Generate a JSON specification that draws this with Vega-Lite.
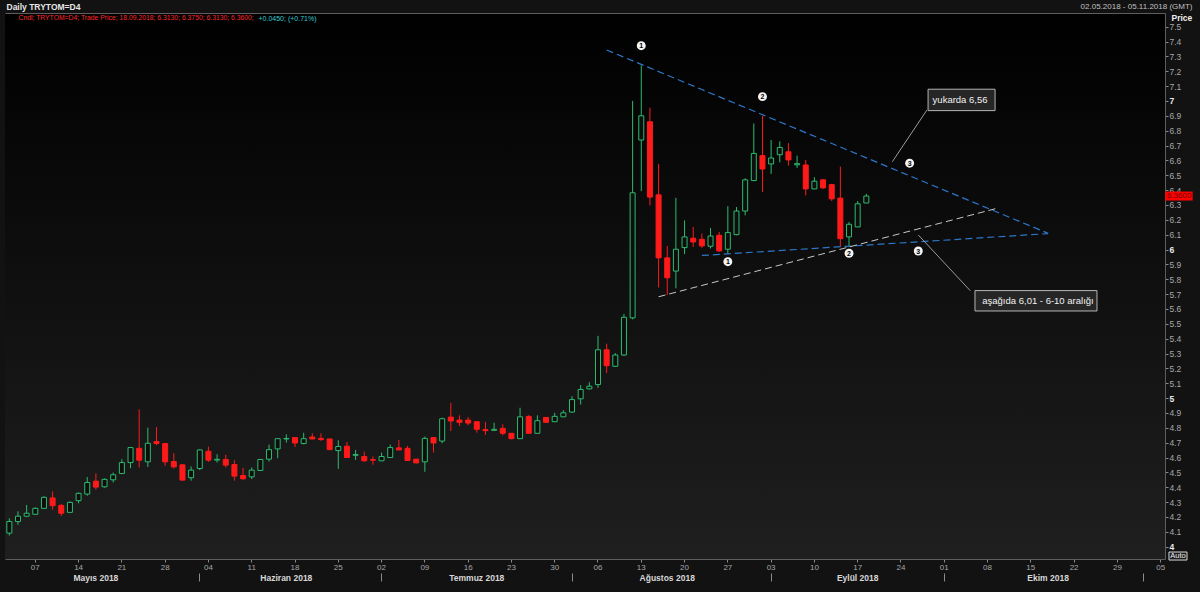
{
"$schema": "https://vega.github.io/schema/vega-lite/v6.json",
"width": 1160, "height": 546,
"autosize": {"type": "none"},
"padding": {"left": 5, "top": 13, "right": 35, "bottom": 33},
"background": "#121212",
"config": {
  "font": "Liberation Sans",
  "view": {"stroke": null, "fill": {"gradient": "linear", "x1": 0, "y1": 0, "x2": 0, "y2": 1, "stops": [{"offset": 0, "color": "#000000"}, {"offset": 1, "color": "#1f1f1f"}]}},
  "axis": {"grid": false, "labelFont": "Liberation Sans", "titleFont": "Liberation Sans", "labelOverlap": false, "labelFlush": false}
},
"datasets": {
  "ohlc": [
    {"d":"2018-05-02","o":4.091,"h":4.191,"l":4.075,"c":4.169},
    {"d":"2018-05-03","o":4.169,"h":4.238,"l":4.147,"c":4.205},
    {"d":"2018-05-04","o":4.205,"h":4.281,"l":4.203,"c":4.225},
    {"d":"2018-05-07","o":4.218,"h":4.265,"l":4.214,"c":4.258},
    {"d":"2018-05-08","o":4.258,"h":4.339,"l":4.254,"c":4.332},
    {"d":"2018-05-09","o":4.328,"h":4.372,"l":4.249,"c":4.276},
    {"d":"2018-05-10","o":4.278,"h":4.287,"l":4.207,"c":4.225},
    {"d":"2018-05-11","o":4.231,"h":4.305,"l":4.227,"c":4.298},
    {"d":"2018-05-14","o":4.310,"h":4.365,"l":4.292,"c":4.359},
    {"d":"2018-05-15","o":4.354,"h":4.468,"l":4.343,"c":4.432},
    {"d":"2018-05-16","o":4.441,"h":4.493,"l":4.383,"c":4.401},
    {"d":"2018-05-17","o":4.403,"h":4.459,"l":4.397,"c":4.453},
    {"d":"2018-05-18","o":4.450,"h":4.499,"l":4.432,"c":4.484},
    {"d":"2018-05-21","o":4.493,"h":4.589,"l":4.488,"c":4.566},
    {"d":"2018-05-22","o":4.566,"h":4.671,"l":4.528,"c":4.667},
    {"d":"2018-05-23","o":4.662,"h":4.924,"l":4.533,"c":4.582},
    {"d":"2018-05-24","o":4.571,"h":4.801,"l":4.537,"c":4.696},
    {"d":"2018-05-25","o":4.707,"h":4.805,"l":4.683,"c":4.694},
    {"d":"2018-05-28","o":4.694,"h":4.697,"l":4.544,"c":4.571},
    {"d":"2018-05-29","o":4.573,"h":4.629,"l":4.526,"c":4.537},
    {"d":"2018-05-30","o":4.551,"h":4.555,"l":4.444,"c":4.448},
    {"d":"2018-05-31","o":4.464,"h":4.540,"l":4.444,"c":4.515},
    {"d":"2018-06-01","o":4.526,"h":4.656,"l":4.515,"c":4.651},
    {"d":"2018-06-04","o":4.642,"h":4.674,"l":4.571,"c":4.582},
    {"d":"2018-06-05","o":4.583,"h":4.622,"l":4.566,"c":4.588},
    {"d":"2018-06-06","o":4.587,"h":4.618,"l":4.533,"c":4.549},
    {"d":"2018-06-07","o":4.553,"h":4.582,"l":4.444,"c":4.475},
    {"d":"2018-06-08","o":4.479,"h":4.531,"l":4.450,"c":4.457},
    {"d":"2018-06-11","o":4.470,"h":4.533,"l":4.455,"c":4.515},
    {"d":"2018-06-12","o":4.513,"h":4.587,"l":4.511,"c":4.587},
    {"d":"2018-06-13","o":4.589,"h":4.687,"l":4.573,"c":4.653},
    {"d":"2018-06-14","o":4.658,"h":4.727,"l":4.595,"c":4.727},
    {"d":"2018-06-15","o":4.725,"h":4.756,"l":4.700,"c":4.728},
    {"d":"2018-06-18","o":4.734,"h":4.734,"l":4.671,"c":4.698},
    {"d":"2018-06-19","o":4.694,"h":4.767,"l":4.689,"c":4.727},
    {"d":"2018-06-20","o":4.738,"h":4.763,"l":4.723,"c":4.725},
    {"d":"2018-06-21","o":4.729,"h":4.763,"l":4.712,"c":4.721},
    {"d":"2018-06-22","o":4.725,"h":4.725,"l":4.651,"c":4.653},
    {"d":"2018-06-25","o":4.647,"h":4.716,"l":4.524,"c":4.674},
    {"d":"2018-06-26","o":4.676,"h":4.705,"l":4.600,"c":4.600},
    {"d":"2018-06-27","o":4.615,"h":4.651,"l":4.584,"c":4.620},
    {"d":"2018-06-28","o":4.607,"h":4.640,"l":4.571,"c":4.578},
    {"d":"2018-06-29","o":4.586,"h":4.607,"l":4.551,"c":4.582},
    {"d":"2018-07-02","o":4.578,"h":4.633,"l":4.578,"c":4.607},
    {"d":"2018-07-03","o":4.600,"h":4.687,"l":4.600,"c":4.667},
    {"d":"2018-07-04","o":4.665,"h":4.718,"l":4.651,"c":4.651},
    {"d":"2018-07-05","o":4.662,"h":4.678,"l":4.580,"c":4.580},
    {"d":"2018-07-06","o":4.589,"h":4.589,"l":4.560,"c":4.564},
    {"d":"2018-07-09","o":4.571,"h":4.741,"l":4.504,"c":4.729},
    {"d":"2018-07-10","o":4.734,"h":4.738,"l":4.634,"c":4.698},
    {"d":"2018-07-11","o":4.711,"h":4.868,"l":4.696,"c":4.861},
    {"d":"2018-07-12","o":4.872,"h":4.968,"l":4.778,"c":4.846},
    {"d":"2018-07-13","o":4.852,"h":4.884,"l":4.812,"c":4.837},
    {"d":"2018-07-16","o":4.852,"h":4.872,"l":4.817,"c":4.832},
    {"d":"2018-07-17","o":4.841,"h":4.841,"l":4.767,"c":4.790},
    {"d":"2018-07-18","o":4.788,"h":4.839,"l":4.752,"c":4.781},
    {"d":"2018-07-19","o":4.783,"h":4.834,"l":4.779,"c":4.790},
    {"d":"2018-07-20","o":4.796,"h":4.823,"l":4.749,"c":4.763},
    {"d":"2018-07-23","o":4.763,"h":4.763,"l":4.723,"c":4.727},
    {"d":"2018-07-24","o":4.727,"h":4.935,"l":4.727,"c":4.874},
    {"d":"2018-07-25","o":4.877,"h":4.884,"l":4.763,"c":4.763},
    {"d":"2018-07-26","o":4.763,"h":4.884,"l":4.763,"c":4.848},
    {"d":"2018-07-27","o":4.870,"h":4.870,"l":4.834,"c":4.837},
    {"d":"2018-07-30","o":4.841,"h":4.901,"l":4.841,"c":4.877},
    {"d":"2018-07-31","o":4.874,"h":4.919,"l":4.874,"c":4.901},
    {"d":"2018-08-01","o":4.906,"h":5.013,"l":4.901,"c":4.990},
    {"d":"2018-08-02","o":4.995,"h":5.087,"l":4.957,"c":5.058},
    {"d":"2018-08-03","o":5.062,"h":5.107,"l":5.058,"c":5.080},
    {"d":"2018-08-06","o":5.091,"h":5.419,"l":5.069,"c":5.325},
    {"d":"2018-08-07","o":5.325,"h":5.366,"l":5.169,"c":5.218},
    {"d":"2018-08-08","o":5.214,"h":5.303,"l":5.209,"c":5.290},
    {"d":"2018-08-09","o":5.290,"h":5.567,"l":5.285,"c":5.544},
    {"d":"2018-08-10","o":5.540,"h":7.000,"l":5.530,"c":6.382},
    {"d":"2018-08-13","o":6.737,"h":7.239,"l":6.393,"c":6.900},
    {"d":"2018-08-14","o":6.860,"h":6.955,"l":6.297,"c":6.353},
    {"d":"2018-08-15","o":6.368,"h":6.576,"l":5.745,"c":5.944},
    {"d":"2018-08-16","o":5.944,"h":6.024,"l":5.694,"c":5.810},
    {"d":"2018-08-17","o":5.855,"h":6.348,"l":5.739,"c":6.002},
    {"d":"2018-08-20","o":6.013,"h":6.196,"l":5.969,"c":6.085},
    {"d":"2018-08-21","o":6.076,"h":6.152,"l":6.018,"c":6.051},
    {"d":"2018-08-22","o":6.069,"h":6.107,"l":6.011,"c":6.024},
    {"d":"2018-08-23","o":6.022,"h":6.145,"l":6.007,"c":6.091},
    {"d":"2018-08-24","o":6.096,"h":6.118,"l":5.984,"c":5.991},
    {"d":"2018-08-27","o":6.002,"h":6.292,"l":5.973,"c":6.114},
    {"d":"2018-08-28","o":6.100,"h":6.286,"l":6.096,"c":6.259},
    {"d":"2018-08-29","o":6.259,"h":6.480,"l":6.230,"c":6.469},
    {"d":"2018-08-30","o":6.464,"h":6.848,"l":6.464,"c":6.647},
    {"d":"2018-08-31","o":6.632,"h":6.900,"l":6.386,"c":6.542},
    {"d":"2018-09-03","o":6.576,"h":6.737,"l":6.509,"c":6.616},
    {"d":"2018-09-04","o":6.638,"h":6.728,"l":6.587,"c":6.687},
    {"d":"2018-09-05","o":6.658,"h":6.716,"l":6.565,"c":6.603},
    {"d":"2018-09-06","o":6.570,"h":6.632,"l":6.549,"c":6.578},
    {"d":"2018-09-07","o":6.569,"h":6.603,"l":6.364,"c":6.408},
    {"d":"2018-09-10","o":6.408,"h":6.487,"l":6.408,"c":6.460},
    {"d":"2018-09-11","o":6.469,"h":6.475,"l":6.408,"c":6.415},
    {"d":"2018-09-12","o":6.437,"h":6.442,"l":6.326,"c":6.341},
    {"d":"2018-09-13","o":6.346,"h":6.558,"l":6.018,"c":6.073},
    {"d":"2018-09-14","o":6.085,"h":6.185,"l":6.018,"c":6.170},
    {"d":"2018-09-17","o":6.152,"h":6.326,"l":6.152,"c":6.308},
    {"d":"2018-09-18","o":6.313,"h":6.375,"l":6.313,"c":6.360}
  ],
  "blue": [
    {"g":"top","d":"2018-08-07","p":7.343},{"g":"top","d":"2018-10-17","p":6.109},
    {"g":"low","d":"2018-08-22","p":5.960},{"g":"low","d":"2018-10-17","p":6.107}
  ],
  "white": [{"d":"2018-08-15","p":5.682},{"d":"2018-10-09","p":6.276}],
  "callout": [
    {"g":"a","d":"2018-09-27","p":6.939},{"g":"a","d":"2018-09-21","p":6.591},
    {"g":"b","d":"2018-09-26","p":6.098},{"g":"b","d":"2018-10-04","p":5.723}
  ],
  "marks": [
    {"d":"2018-08-13","p":7.372,"n":"1"},{"d":"2018-08-31","p":7.029,"n":"2"},{"d":"2018-09-25","p":6.581,"n":"3"},
    {"d":"2018-08-27","p":5.918,"n":"1"},{"d":"2018-09-14","p":5.975,"n":"2"},{"d":"2018-09-26","p":5.990,"n":"3"}
  ],
  "boxes": [
    {"id":"b1","d":"2018-10-03","p":7.007,"t":"yukarda 6,56"},
    {"id":"b2","d":"2018-10-16","p":5.655,"t":"aşağıda 6,01 - 6-10 aralığı"}
  ],
  "tag": [{"d":"2018-11-05","p":6.36,"t":"6.3600","chg":"+0.0450; (+0.71%)"}],
  "auto": [{"d":"2018-11-05","p":3.937,"t":"Auto"}]
},
"encoding": {
  "x": {"field": "d", "type": "ordinal", "axis": null,
    "scale": {"type": "band", "paddingInner": 0, "paddingOuter": 0, "domain": ["2018-05-02","2018-05-03","2018-05-04","2018-05-07","2018-05-08","2018-05-09","2018-05-10","2018-05-11","2018-05-14","2018-05-15","2018-05-16","2018-05-17","2018-05-18","2018-05-21","2018-05-22","2018-05-23","2018-05-24","2018-05-25","2018-05-28","2018-05-29","2018-05-30","2018-05-31","2018-06-01","2018-06-04","2018-06-05","2018-06-06","2018-06-07","2018-06-08","2018-06-11","2018-06-12","2018-06-13","2018-06-14","2018-06-15","2018-06-18","2018-06-19","2018-06-20","2018-06-21","2018-06-22","2018-06-25","2018-06-26","2018-06-27","2018-06-28","2018-06-29","2018-07-02","2018-07-03","2018-07-04","2018-07-05","2018-07-06","2018-07-09","2018-07-10","2018-07-11","2018-07-12","2018-07-13","2018-07-16","2018-07-17","2018-07-18","2018-07-19","2018-07-20","2018-07-23","2018-07-24","2018-07-25","2018-07-26","2018-07-27","2018-07-30","2018-07-31","2018-08-01","2018-08-02","2018-08-03","2018-08-06","2018-08-07","2018-08-08","2018-08-09","2018-08-10","2018-08-13","2018-08-14","2018-08-15","2018-08-16","2018-08-17","2018-08-20","2018-08-21","2018-08-22","2018-08-23","2018-08-24","2018-08-27","2018-08-28","2018-08-29","2018-08-30","2018-08-31","2018-09-03","2018-09-04","2018-09-05","2018-09-06","2018-09-07","2018-09-10","2018-09-11","2018-09-12","2018-09-13","2018-09-14","2018-09-17","2018-09-18","2018-09-19","2018-09-20","2018-09-21","2018-09-24","2018-09-25","2018-09-26","2018-09-27","2018-09-28","2018-10-01","2018-10-02","2018-10-03","2018-10-04","2018-10-05","2018-10-08","2018-10-09","2018-10-10","2018-10-11","2018-10-12","2018-10-15","2018-10-16","2018-10-17","2018-10-18","2018-10-19","2018-10-22","2018-10-23","2018-10-24","2018-10-25","2018-10-26","2018-10-29","2018-10-30","2018-10-31","2018-11-01","2018-11-02","2018-11-05"]}}
},
"layer": [
  {
    "data": {"name": "ohlc"},
    "mark": {"type": "rule", "strokeWidth": 1},
    "encoding": {
      "x": {"field": "d", "type": "ordinal", "scale": {"type": "band"},
        "axis": {"orient": "bottom", "title": null, "labelAngle": 0,
          "values": ["2018-05-07","2018-05-14","2018-05-21","2018-05-28","2018-06-04","2018-06-11","2018-06-18","2018-06-25","2018-07-02","2018-07-09","2018-07-16","2018-07-23","2018-07-30","2018-08-06","2018-08-13","2018-08-20","2018-08-27","2018-09-03","2018-09-10","2018-09-17","2018-09-24","2018-10-01","2018-10-08","2018-10-15","2018-10-22","2018-10-29","2018-11-05"],
          "labelExpr": "substring(datum.value, 8, 10)",
          "domain": true, "domainColor": "#5e5e5e", "ticks": true, "tickSize": 3, "tickColor": "#8a8a8a",
          "labelColor": "#a6a6a6", "labelFontSize": 8, "labelPadding": 1}},
      "y": {"field": "l", "type": "quantitative", "scale": {"domain": [3.917, 7.592], "nice": false, "zero": false},
        "axis": {"orient": "right", "offset": 0,
          "values": [4,4.1,4.2,4.3,4.4,4.5,4.6,4.7,4.8,4.9,5,5.1,5.2,5.3,5.4,5.5,5.6,5.7,5.8,5.9,6,6.1,6.2,6.3,6.4,6.5,6.6,6.7,6.8,6.9,7,7.1,7.2,7.3,7.4,7.5],
          "labelExpr": "abs(datum.value - round(datum.value)) < 0.001 ? format(datum.value, 'd') : format(datum.value, '.1f')",
          "domain": true, "domainColor": "#5e5e5e", "ticks": true, "tickSize": 3, "tickColor": "#8a8a8a",
          "labelColor": {"condition": {"test": "abs(datum.value - round(datum.value)) < 0.001", "value": "#e8e8e8"}, "value": "#a8a8a8"},
          "labelFontWeight": {"condition": {"test": "abs(datum.value - round(datum.value)) < 0.001", "value": "bold"}, "value": "normal"},
          "labelFontSize": 8.5, "labelPadding": 1, "labelBaseline": "middle",
          "title": "Price", "titleAngle": 0, "titleX": 6, "titleY": 4, "titleAlign": "left", "titleBaseline": "middle",
          "titleFontWeight": "bold", "titleFontSize": 8.5, "titleColor": "#eeeeee"}},
      "y2": {"field": "h"},
      "stroke": {"condition": {"test": "datum.c >= datum.o", "value": "#2dbb6e"}, "value": "#ff1a1a"}
    }
  },
  {
    "data": {"name": "ohlc"},
    "mark": {"type": "bar", "size": 5, "strokeWidth": 1},
    "encoding": {
      "x": {"field": "d", "type": "ordinal", "scale": {"type": "band"},
        "axis": {"orient": "bottom", "offset": 14, "title": null, "labelAngle": 0,
          "values": ["2018-05-16","2018-06-15","2018-07-17","2018-08-16","2018-09-17","2018-10-17"],
          "labelExpr": "datum.value == '2018-05-16' ? 'Mayıs 2018' : datum.value == '2018-06-15' ? 'Haziran 2018' : datum.value == '2018-07-17' ? 'Temmuz 2018' : datum.value == '2018-08-16' ? 'Ağustos 2018' : datum.value == '2018-09-17' ? 'Eylül 2018' : 'Ekim 2018'",
          "ticks": false, "domain": false, "labelDx": 3.5, "labelPadding": 0,
          "labelFontWeight": "bold", "labelColor": "#d8d8d8", "labelFontSize": 8.5}},
      "y": {"field": "o", "type": "quantitative", "scale": {"domain": [3.917, 7.592], "nice": false, "zero": false}, "axis": null},
      "y2": {"field": "c"},
      "fill": {"condition": {"test": "datum.c >= datum.o", "value": "#0e0e0e"}, "value": "#ff1a1a"},
      "stroke": {"condition": {"test": "datum.c >= datum.o", "value": "#2dbb6e"}, "value": "#ff1a1a"}
    }
  },
  {
    "data": {"name": "blue"},
    "mark": {"type": "line", "color": "#2d77c8", "strokeWidth": 1.2, "strokeDash": [7, 4]},
    "encoding": {
      "x": {"field": "d", "type": "ordinal", "scale": {"type": "band"},
        "axis": {"orient": "top", "labels": false, "ticks": false, "domain": true, "domainColor": "#5e5e5e",
          "title": "Daily TRYTOM=D4", "titleX": 1, "titleY": -6.5, "titleAlign": "left", "titleBaseline": "middle", "titleAngle": 0,
          "titleFontSize": 8.5, "titleFontWeight": "bold", "titleColor": "#e6e6e6"}},
      "y": {"field": "p", "type": "quantitative", "scale": {"domain": [3.917, 7.592], "nice": false, "zero": false}, "axis": null},
      "detail": {"field": "g"}
    }
  },
  {
    "data": {"name": "white"},
    "mark": {"type": "line", "color": "#c8c8c8", "strokeWidth": 1, "strokeDash": [7, 4]},
    "encoding": {
      "x": {"field": "d", "type": "ordinal", "scale": {"type": "band"},
        "axis": {"orient": "top", "labels": false, "ticks": false, "domain": false,
          "title": "02.05.2018 - 05.11.2018 (GMT)", "titleX": 1187, "titleY": -6.5, "titleAlign": "right", "titleBaseline": "middle", "titleAngle": 0,
          "titleFontSize": 8, "titleFontWeight": "normal", "titleColor": "#c0c0c0"}},
      "y": {"field": "p", "type": "quantitative", "scale": {"domain": [3.917, 7.592], "nice": false, "zero": false}, "axis": null}
    }
  },
  {
    "data": {"name": "callout"},
    "mark": {"type": "line", "color": "#9a9a9a", "strokeWidth": 1},
    "encoding": {
      "y": {"field": "p", "type": "quantitative", "scale": {"domain": [3.917, 7.592], "nice": false, "zero": false}, "axis": null},
      "detail": {"field": "g"}
    }
  },
  {
    "data": {"name": "marks"},
    "mark": {"type": "point", "shape": "circle", "filled": true, "size": 80, "fill": "#f4f4f4", "opacity": 1, "strokeWidth": 0},
    "encoding": {
      "x": {"field": "d", "type": "ordinal", "scale": {"type": "band"},
        "axis": {"orient": "bottom", "offset": 14, "title": null, "labels": false, "domain": false, "ticks": true, "tickSize": 8, "tickColor": "#8c8c8c",
          "values": ["2018-06-01","2018-07-02","2018-08-01","2018-09-03","2018-10-01","2018-11-01"]}},
      "y": {"field": "p", "type": "quantitative", "scale": {"domain": [3.917, 7.592], "nice": false, "zero": false}, "axis": null}
    }
  },
  {
    "data": {"name": "marks"},
    "mark": {"type": "text", "color": "#000000", "fontSize": 7, "fontWeight": "bold", "baseline": "middle", "align": "center", "dy": 0.5},
    "encoding": {
      "y": {"field": "p", "type": "quantitative", "scale": {"domain": [3.917, 7.592], "nice": false, "zero": false}, "axis": null},
      "text": {"field": "n"}
    }
  },
  {
    "data": {"name": "boxes"},
    "transform": [{"filter": "datum.id == 'b1'"}],
    "mark": {"type": "point", "filled": true, "opacity": 1, "size": 10000, "shape": "M-0.67,-0.214L0.67,-0.214L0.67,0.214L-0.67,0.214Z", "fill": "#262626", "stroke": "#b5b5b5", "strokeWidth": 1},
    "encoding": {
      "y": {"field": "p", "type": "quantitative", "scale": {"domain": [3.917, 7.592], "nice": false, "zero": false}, "axis": null}
    }
  },
  {
    "data": {"name": "boxes"},
    "transform": [{"filter": "datum.id == 'b2'"}],
    "mark": {"type": "point", "filled": true, "opacity": 1, "size": 10000, "shape": "M-1.29,-0.204L1.15,-0.204L1.15,0.204L-1.29,0.204Z", "fill": "#262626", "stroke": "#b5b5b5", "strokeWidth": 1},
    "encoding": {
      "y": {"field": "p", "type": "quantitative", "scale": {"domain": [3.917, 7.592], "nice": false, "zero": false}, "axis": null}
    }
  },
  {
    "data": {"name": "boxes"},
    "mark": {"type": "text", "color": "#f2f2f2", "fontSize": 9.5, "baseline": "middle", "align": "center", "dx": -1.5},
    "encoding": {
      "y": {"field": "p", "type": "quantitative", "scale": {"domain": [3.917, 7.592], "nice": false, "zero": false}, "axis": null},
      "text": {"field": "t"}
    }
  },
  {
    "data": {"name": "auto"},
    "mark": {"type": "point", "filled": true, "opacity": 1, "size": 10000, "shape": "M0.166,-0.08L0.526,-0.08L0.526,0.08L0.166,0.08Z", "fill": "#1c1c1c", "stroke": "#d8d8d8", "strokeWidth": 1},
    "encoding": {
      "y": {"field": "p", "type": "quantitative", "scale": {"domain": [3.917, 7.592], "nice": false, "zero": false}, "axis": null}
    }
  },
  {
    "data": {"name": "auto"},
    "mark": {"type": "text", "color": "#f0f0f0", "fontSize": 7.5, "baseline": "middle", "align": "center", "dx": 17.3},
    "encoding": {
      "y": {"field": "p", "type": "quantitative", "scale": {"domain": [3.917, 7.592], "nice": false, "zero": false}, "axis": null},
      "text": {"field": "t"}
    }
  },
  {
    "data": {"name": "tag"},
    "mark": {"type": "point", "filled": true, "opacity": 1, "size": 10000, "shape": "M0.09,-0.09L0.64,-0.09L0.64,0.09L0.09,0.09Z", "strokeWidth": 0},
    "encoding": {
      "y": {"field": "p", "type": "quantitative", "scale": {"domain": [3.917, 7.592], "nice": false, "zero": false}, "axis": null},
      "fill": {"field": "chg", "type": "nominal", "scale": {"range": ["#ff0000"]},
        "legend": {"orient": "none", "legendX": 13.5, "legendY": 2, "direction": "horizontal", "padding": 0,
          "title": "Cndl; TRYTOM=D4; Trade Price;  18.09.2018; 6.3130; 6.3750; 6.3130; 6.3600;",
          "titleOrient": "left", "titleColor": "#ff2a2a", "titleFont": "Liberation Sans", "titleFontSize": 6.8, "titleFontWeight": "normal",
          "titleLimit": 600, "titlePadding": -5, "titleBaseline": "middle",
          "labelColor": "#33cfd4", "labelFont": "Liberation Sans", "labelFontSize": 7, "labelOffset": 0, "labelLimit": 300,
          "symbolOpacity": 0, "symbolSize": 0, "symbolStrokeWidth": 0}}
    }
  },
  {
    "data": {"name": "tag"},
    "mark": {"type": "text", "color": "#6a0000", "fontSize": 8, "baseline": "middle", "align": "center", "dx": 18.5},
    "encoding": {
      "y": {"field": "p", "type": "quantitative", "scale": {"domain": [3.917, 7.592], "nice": false, "zero": false}, "axis": null},
      "text": {"field": "t"}
    }
  }
],
"resolve": {"axis": {"x": "independent", "y": "independent"}}
}
